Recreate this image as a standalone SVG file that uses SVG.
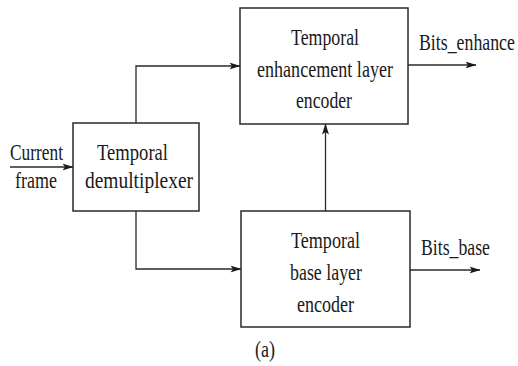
<svg xmlns="http://www.w3.org/2000/svg" width="518" height="366" viewBox="0 0 518 366">
  <style>
    .box { fill: #ffffff; stroke: #2a2a2a; stroke-width: 1.5; }
    .wire { fill: none; stroke: #2a2a2a; stroke-width: 1.3; }
    text { font-family: "Liberation Serif", "Times New Roman", serif; font-size: 24px; fill: #1a1a1a; }
  </style>
  <defs>
    <marker id="arrow" viewBox="0 0 11 8" refX="10.5" refY="4" markerWidth="11" markerHeight="8" markerUnits="userSpaceOnUse" orient="auto">
      <path d="M0,0.5 L11,4 L0,7.5 L2.5,4 Z" fill="#1a1a1a"/>
    </marker>
  </defs>

  <rect width="518" height="366" fill="#ffffff"/>

  <g id="connectors">
    <!-- input -->
    <path class="wire" d="M10,167 L73,167" marker-end="url(#arrow)"/>
    <!-- demux to enhancement encoder -->
    <path class="wire" d="M136,123 L136,66 L240,66" marker-end="url(#arrow)"/>
    <!-- demux to base encoder -->
    <path class="wire" d="M136,211 L136,269 L241,269" marker-end="url(#arrow)"/>
    <!-- base to enhancement -->
    <path class="wire" d="M325.5,211 L325.5,124" marker-end="url(#arrow)"/>
    <!-- outputs -->
    <path class="wire" d="M408,65 L476,65" marker-end="url(#arrow)"/>
    <path class="wire" d="M410,270 L480,270" marker-end="url(#arrow)"/>
  </g>

  <g id="input-label">
    <text x="10" y="160" textLength="53" lengthAdjust="spacingAndGlyphs">Current</text>
    <text x="15" y="188" textLength="42" lengthAdjust="spacingAndGlyphs">frame</text>
  </g>

  <g id="demux">
    <rect class="box" x="73" y="123" width="126" height="88"/>
    <text x="97" y="160" textLength="71" lengthAdjust="spacingAndGlyphs">Temporal</text>
    <text x="85" y="188" textLength="108" lengthAdjust="spacingAndGlyphs">demultiplexer</text>
  </g>

  <g id="enhancement-encoder">
    <rect class="box" x="240" y="8" width="168" height="116"/>
    <text x="291" y="45" textLength="68" lengthAdjust="spacingAndGlyphs">Temporal</text>
    <text x="257" y="77" textLength="136" lengthAdjust="spacingAndGlyphs">enhancement layer</text>
    <text x="296" y="108" textLength="56" lengthAdjust="spacingAndGlyphs">encoder</text>
  </g>

  <g id="base-encoder">
    <rect class="box" x="241" y="211" width="169" height="116"/>
    <text x="291" y="248" textLength="69" lengthAdjust="spacingAndGlyphs">Temporal</text>
    <text x="290" y="280" textLength="72" lengthAdjust="spacingAndGlyphs">base layer</text>
    <text x="297" y="312" textLength="57" lengthAdjust="spacingAndGlyphs">encoder</text>
  </g>

  <g id="outputs">
    <text transform="translate(419,50) scale(0.742,1)" x="0" y="0">Bits_enhance</text>
    <text x="421" y="255" textLength="69" lengthAdjust="spacingAndGlyphs">Bits_base</text>
  </g>

  <text id="caption" x="255" y="357" textLength="20" lengthAdjust="spacingAndGlyphs">(a)</text>
</svg>
